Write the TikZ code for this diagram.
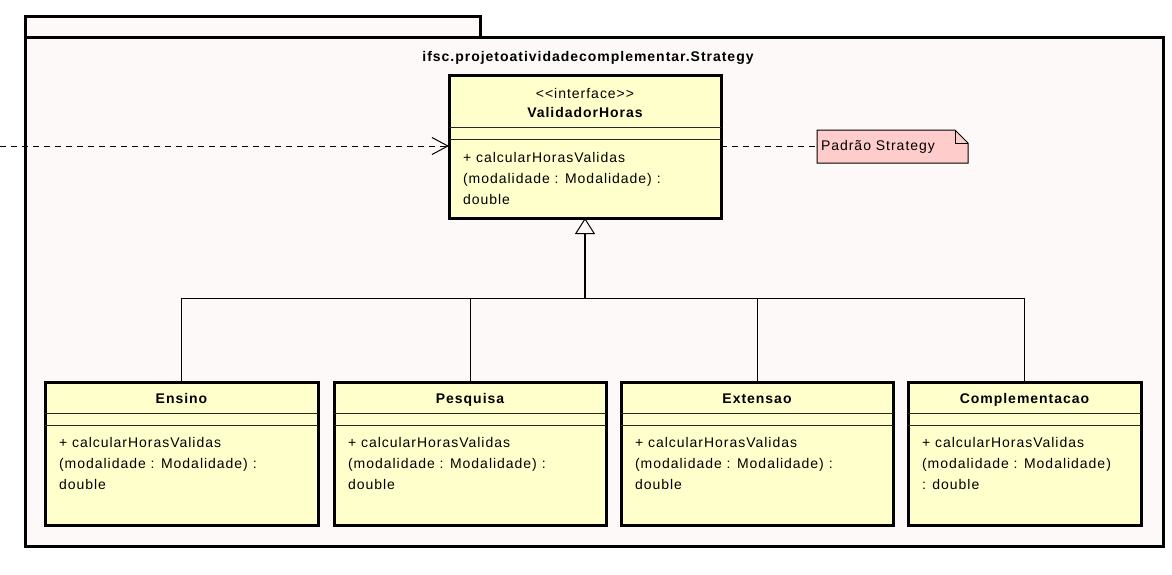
\documentclass[tikz,border=0pt]{standalone}
\usepackage{fontspec}
\setmainfont{Liberation Sans}[LetterSpace=7]
\usetikzlibrary{arrows.meta}
\definecolor{pkgbg}{RGB}{253,249,249}
\definecolor{clsbg}{RGB}{255,255,204}
\definecolor{notebg}{RGB}{255,204,204}
\tikzset{
  every node/.style={font=\fontsize{14}{17}\selectfont, inner sep=0pt, outer sep=0pt},
  pkgpart/.style={draw, line width=3pt, fill=pkgbg, anchor=north west, inner sep=0pt, outer sep=0pt},
  classbox/.style={draw, line width=3pt, fill=clsbg, anchor=north west, minimum height=143pt},
  divider/.style={line width=1pt, black!85},
  ctitle/.style={font=\fontsize{14}{17}\selectfont\bfseries, anchor=base},
  member/.style={anchor=base west},
  dep/.style={line width=1pt, dash pattern=on 6pt off 5pt, -{Straight Barb[length=16pt,width=17pt,line width=1pt]}},
  notelink/.style={line width=1pt, dash pattern=on 6pt off 5pt},
  gen/.style={line width=2pt, -{Triangle[open, fill=pkgbg, length=16pt, width=20pt, line width=1pt]}},
  genline/.style={line width=1pt},
  notebox/.style={anchor=north west, minimum width=151pt, minimum height=33pt},
}
\begin{document}
\begin{tikzpicture}[x=1pt,y=-1pt]
\useasboundingbox (0,0) rectangle (1172,574);
% package
\node[pkgpart, minimum width=455pt, minimum height=21pt] (tab) at (25,16) {};
\node[pkgpart, minimum width=1138pt, minimum height=509pt] (pkg) at (25,37) {};
\node[ctitle] (pkgname) at (588,61) {ifsc.projetoatividadecomplementar.Strategy};

% interface
\node[classbox, minimum width=272pt] (iface) at (449,75) {};
\node[anchor=base] (stereo) at ([yshift=-23pt]iface.north) {{<}{<}interface{>}{>}};
\node[ctitle] (ifacename) at ([yshift=-42pt]iface.north) {ValidadorHoras};
\draw[divider] ([yshift=-52pt]iface.north west) -- ([yshift=-52pt]iface.north east);
\draw[divider] ([yshift=-64pt]iface.north west) -- ([yshift=-64pt]iface.north east);
\node[member] (im1) at ([xshift=14pt,yshift=-87pt]iface.north west) {+ calcularHorasValidas};
\node[member] (im2) at ([xshift=14pt,yshift=-108pt]iface.north west) {(modalidade : Modalidade) :};
\node[member] (im3) at ([xshift=14pt,yshift=-129pt]iface.north west) {double};

% subclasses
\foreach \nm/\ttl/\xx/\ww/\la/\lb in {
  ensino/Ensino/45/273/{(modalidade : Modalidade) :}/double,
  pesquisa/Pesquisa/334/272/{(modalidade : Modalidade) :}/double,
  extensao/Extensao/621/272/{(modalidade : Modalidade) :}/double,
  compl/Complementacao/908/233/{(modalidade : Modalidade)}/{: double}}{
  \node[classbox, minimum width=\ww pt] (\nm) at (\xx,382) {};
  \node[ctitle] (\nm-title) at ([yshift=-21pt]\nm.north) {\ttl};
  \draw[divider] ([yshift=-31pt]\nm.north west) -- ([yshift=-31pt]\nm.north east);
  \draw[divider] ([yshift=-43pt]\nm.north west) -- ([yshift=-43pt]\nm.north east);
  \node[member] (\nm-m1) at ([xshift=14pt,yshift=-65pt]\nm.north west) {+ calcularHorasValidas};
  \node[member] (\nm-m2) at ([xshift=14pt,yshift=-86pt]\nm.north west) {\la};
  \node[member] (\nm-m3) at ([xshift=14pt,yshift=-107pt]\nm.north west) {\lb};
}

% generalization
\coordinate (join) at (iface.south |- 0,298);
\draw[genline] (ensino.north) |- (join);
\draw[genline] (pesquisa.north) |- (join);
\draw[genline] (extensao.north) |- (join);
\draw[genline] (compl.north) |- (join);
\draw[gen] (join) -- (iface.south);

% dependency from outside
\coordinate (src) at (0,146);
\draw[dep] (src) -- (src -| iface.west);

% note
\node[notebox] (note) at (817,130) {};
\draw[line width=1pt, fill=notebg] (note.north west) -- ([xshift=-13pt]note.north east)
  -- ([yshift=-13pt]note.north east) -- (note.south east) -- (note.south west) -- cycle;
\draw[line width=1pt] ([xshift=-13pt]note.north east) |- ([yshift=-13pt]note.north east);
\node[anchor=west] (notetext) at ([xshift=4pt]note.west) {Padrão Strategy};
\draw[notelink] (iface.east |- note.west) -- (note.west);
\end{tikzpicture}
\end{document}
